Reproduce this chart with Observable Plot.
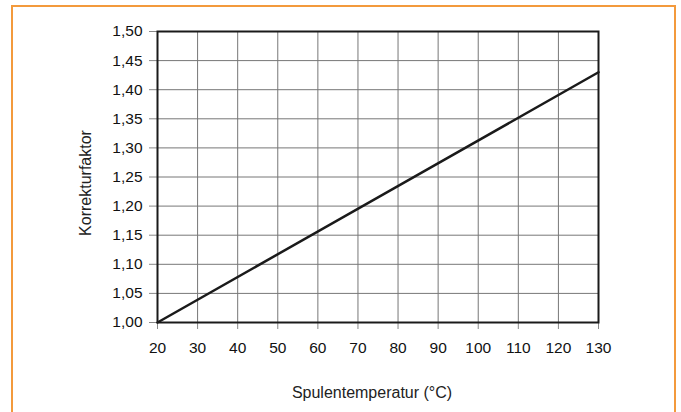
<!DOCTYPE html>
<html><head><meta charset="utf-8">
<script src="https://cdn.jsdelivr.net/npm/d3@7"></script>
<script src="https://cdn.jsdelivr.net/npm/@observablehq/plot@0.6"></script>
<style>
body{margin:0;background:#fff;}
#wrap{position:relative;width:681px;height:412px;overflow:hidden;}
#border{position:absolute;left:11px;top:5px;width:665px;height:420px;border:2px solid #f39a3c;box-sizing:border-box;}
#chart{position:absolute;left:0;top:0;}
</style></head>
<body><div id="wrap"><div id="border"></div><div id="chart"></div></div>
<script>
const temperatures = [20, 130];
const factors = [1.00, 1.43];
const xTicks = [20,30,40,50,60,70,80,90,100,110,120,130];
const yTicks = [1.00,1.05,1.10,1.15,1.20,1.25,1.30,1.35,1.40,1.45,1.50];
const xLabel = "Spulentemperatur (°C)";
const yLabel = "Korrekturfaktor";
const data = temperatures.map((t,i)=>({t, f: factors[i]}));
const fmt = v => d3.format(".2f")(v).replace(".", ",");
const chart = Plot.plot({
  width: 681, height: 412,
  marginLeft: 157, marginRight: 83, marginTop: 31, marginBottom: 90,
  style: {fontFamily: "Liberation Sans, Arial, sans-serif", fontSize: "15.5px", color: "#111", background: "transparent"},
  x: {domain: [20,130]},
  y: {domain: [1.0,1.5]},
  marks: [
    Plot.gridX(xTicks, {stroke: "#777", strokeOpacity: 1, strokeWidth: 1}),
    Plot.gridY(yTicks, {stroke: "#777", strokeOpacity: 1, strokeWidth: 1}),
    Plot.axisX(xTicks, {tickSize: 7, tickPadding: 12, stroke: "#888", label: null, fontSize: 15.5, fill: "#111"}),
    Plot.axisY(yTicks, {tickSize: 8, tickPadding: 7, stroke: "#888", tickFormat: fmt, label: null, fontSize: 15.5, fill: "#111"}),
    Plot.frame({stroke: "#1a1a1a", strokeWidth: 2}),
    Plot.line(data, {x: "t", y: "f", stroke: "#1a1a1a", strokeWidth: 2.5}),
    Plot.text([xLabel], {text: d => d, frameAnchor: "bottom", lineAnchor: "bottom", dy: 75, dx: -6, fontSize: 16, fill: "#222"}),
    Plot.text([yLabel], {text: d => d, frameAnchor: "left", rotate: -90, textAnchor: "middle", lineAnchor: "middle", dx: -71.5, dy: 6, fontSize: 16, fill: "#222", style: {letterSpacing: "0.4px"}})
  ]
});
document.getElementById("chart").appendChild(chart);
</script></body></html>
